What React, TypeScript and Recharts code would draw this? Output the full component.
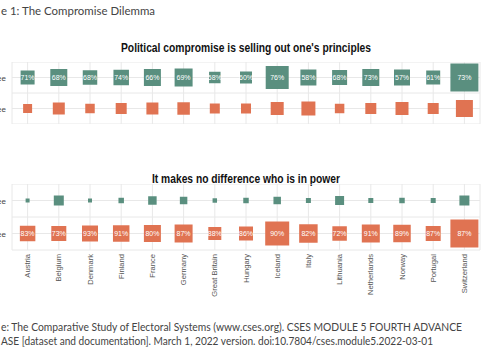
import React from 'react';
import { ScatterChart, Scatter, XAxis, YAxis, ZAxis, CartesianGrid, LabelList } from 'recharts';

const countries = ['Austria', 'Belgium', 'Denmark', 'Finland', 'France', 'Germany', 'Great Britain', 'Hungary', 'Iceland', 'Italy', 'Lithuania', 'Netherlands', 'Norway', 'Portugal', 'Switzerland'];

// Panel 1: Political compromise is selling out one's principles
const compromiseAgreePct = [71, 68, 68, 74, 66, 69, 58, 60, 76, 58, 68, 73, 57, 61, 73];
const compromiseAgreeN = [392, 578, 420, 480, 578, 648, 264, 288, 1058, 512, 450, 578, 512, 392, 1568];
const compromiseDisagreeN = [162, 288, 180, 242, 288, 312, 200, 200, 338, 392, 180, 242, 338, 242, 578];

// Panel 2: It makes no difference who is in power
const powerDisagreePct = [83, 73, 93, 91, 80, 87, 88, 86, 90, 82, 72, 91, 89, 87, 87];
const powerAgreeN = [32, 200, 32, 60, 144, 112, 40, 60, 112, 50, 162, 50, 60, 50, 200];
const powerDisagreeN = [480, 450, 512, 544, 578, 648, 338, 392, 1152, 684, 420, 648, 612, 450, 1568];

const rowLabels: Record<number, string> = { 2: 'Agree', 1: 'Disagree' };

const TEAL = '#5A8F7F';
const ORANGE = '#E07352';
const GRID = '#e8e8e8';

const build = (n: number[], row: number, pct?: number[]) =>
  countries.map((c, i) => ({ i, country: c, row, n: n[i], label: pct ? `${pct[i]}%` : '' }));

const p1Agree = build(compromiseAgreeN, 2, compromiseAgreePct);
const p1Disagree = build(compromiseDisagreeN, 1);
const p2Agree = build(powerAgreeN, 2);
const p2Disagree = build(powerDisagreeN, 1, powerDisagreePct);

const xTicks = countries.map((_, i) => i);
const yTicks = [0.5, 1, 1.5, 2, 2.5];

const YTick = (props: any) => {
  const { x, y, payload } = props;
  const t = rowLabels[payload.value];
  if (!t) return null;
  return (
    <text x={x} y={y} dy={3} textAnchor="end" fontSize={8} fill="#444" fontFamily="Arial, 'Liberation Sans', sans-serif">
      {t}
    </text>
  );
};

const XTick = (props: any) => {
  const { x, y, payload } = props;
  const t = countries[payload.value];
  if (t === undefined) return null;
  return (
    <text
      x={x}
      y={y}
      dy={2.6}
      transform={`rotate(-90 ${x} ${y})`}
      textAnchor="end"
      fontSize={7.6}
      fill="#555"
      fontFamily="Arial, 'Liberation Sans', sans-serif"
    >
      {t}
    </text>
  );
};

const Panel = ({ agree, disagree, showX, height }: { agree: any[]; disagree: any[]; showX: boolean; height: number }) => (
  <ScatterChart width={485} height={height} margin={{ top: 0, right: 5, bottom: 0, left: 0 }}>
    <CartesianGrid stroke={GRID} />
    <XAxis
      type="number"
      dataKey="i"
      domain={[-0.5, 14.5]}
      ticks={xTicks}
      interval={0}
      hide={!showX}
      axisLine={false}
      tickLine={false}
      tickSize={0}
      tickMargin={4}
      height={showX ? 60 : 0}
      tick={<XTick />}
    />
    <YAxis
      type="number"
      dataKey="row"
      domain={[0.5, 2.5]}
      ticks={yTicks}
      interval={0}
      width={12}
      axisLine={false}
      tickLine={false}
      tickSize={0}
      tickMargin={6}
      tick={<YTick />}
    />
    <ZAxis type="number" dataKey="n" domain={[0, 2000]} range={[0, 1000]} />
    <Scatter data={agree} fill={TEAL} shape="square" isAnimationActive={false}>
      <LabelList dataKey="label" position="center" fill="#fff" fontSize={7} fontFamily="Arial, 'Liberation Sans', sans-serif" />
    </Scatter>
    <Scatter data={disagree} fill={ORANGE} shape="square" isAnimationActive={false}>
      <LabelList dataKey="label" position="center" fill="#fff" fontSize={7} fontFamily="Arial, 'Liberation Sans', sans-serif" />
    </Scatter>
  </ScatterChart>
);

const TITLE_FONT = "'Liberation Sans Narrow', 'Arial Narrow', 'Liberation Sans', Arial, sans-serif";
const BODY_FONT = "Lato, 'Open Sans', sans-serif";

export default function App() {
  return (
    <div style={{ position: 'absolute', left: 0, top: 0, width: 485, height: 360, background: '#fff', overflow: 'hidden' }}>
      <svg width={485} height={360} style={{ position: 'absolute', left: 0, top: 0 }}>
        <text x={1} y={15} fontSize={12} fill="#444" fontFamily={BODY_FONT} textLength={154} lengthAdjust="spacingAndGlyphs">
          e 1: The Compromise Dilemma
        </text>
        <text x={121} y={52} fontSize={13} fontWeight="bold" fill="#111" fontFamily={TITLE_FONT} textLength={250} lengthAdjust="spacingAndGlyphs">
          Political compromise is selling out one's principles
        </text>
        <text x={152} y={183} fontSize={13} fontWeight="bold" fill="#111" fontFamily={TITLE_FONT} textLength={188} lengthAdjust="spacingAndGlyphs">
          It makes no difference who is in power
        </text>
        <text x={1} y={331} fontSize={11} fill="#444" fontFamily={BODY_FONT} textLength={461} lengthAdjust="spacingAndGlyphs">
          e: The Comparative Study of Electoral Systems (www.cses.org). CSES MODULE 5 FOURTH ADVANCE
        </text>
        <text x={1} y={345} fontSize={11} fill="#444" fontFamily={BODY_FONT} textLength={432} lengthAdjust="spacingAndGlyphs">
          ASE [dataset and documentation]. March 1, 2022 version. doi:10.7804/cses.module5.2022-03-01
        </text>
      </svg>
      <div style={{ position: 'absolute', left: 0, top: 62 }}>
        <Panel agree={p1Agree} disagree={p1Disagree} showX={false} height={62} />
      </div>
      <div style={{ position: 'absolute', left: 0, top: 184 }}>
        <Panel agree={p2Agree} disagree={p2Disagree} showX={true} height={126} />
      </div>
    </div>
  );
}
